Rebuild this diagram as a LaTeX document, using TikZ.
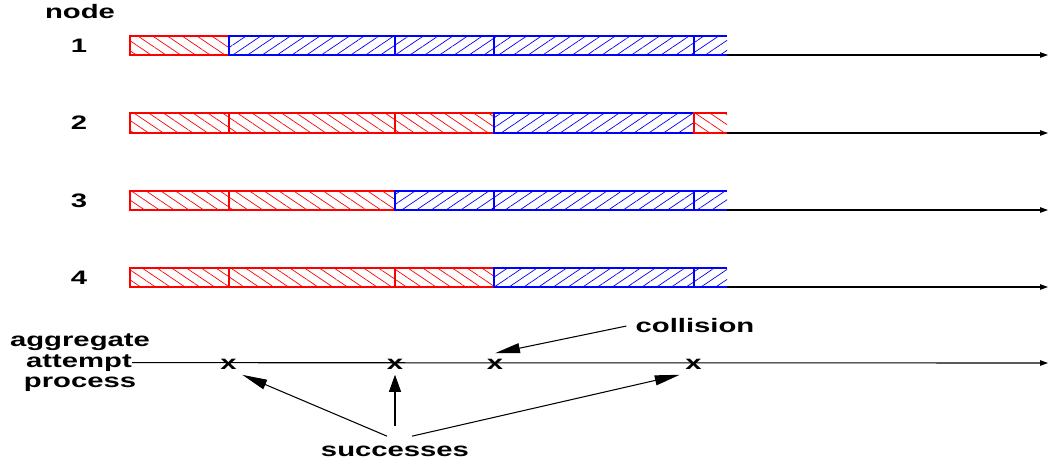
\documentclass[tikz,border=0pt]{standalone}
\usepackage{graphicx}
\usepackage{fontspec}
\setmainfont{Liberation Sans}
\usetikzlibrary{calc, patterns.meta, arrows.meta}

\newcommand{\stretchtxt}[1]{\scalebox{1.5}[1]{#1}}

\tikzset{
	lbl/.style={inner sep=0pt, font=\fontsize{11.1}{13}\selectfont\bfseries},
	hit/.style={lbl, inner sep=3pt},
	redbar/.style={draw=red, line width=0.8pt, pattern color=red,
		pattern={Lines[angle=-34, distance=4.7pt, line width=0.4pt]}},
	bluebar/.style={draw=blue, line width=0.8pt, pattern color=blue,
		pattern={Lines[angle=34, distance=4.7pt, line width=0.4pt]}},
	axis/.style={line width=0.6pt, -{Triangle[length=0.16cm, width=0.11cm]}},
	ann/.style={line width=0.6pt, -{Triangle[length=0.5cm, width=0.2cm]}},
	annup/.style={line width=0.6pt, -{Triangle[length=0.34cm, width=0.24cm]}}
}

\begin{document}
\begin{tikzpicture}[x=0.02cm, y=-0.02cm]
	\useasboundingbox (0,0) rectangle (1050,461);

	%node 1
	\draw[redbar]  (229,36) -| (130,55) -- (229,55);
	\draw[bluebar] (395,36) -| (229,55) -- (395,55);
	\draw[bluebar] (494,36) -| (395,55) -- (494,55);
	\draw[bluebar] (694,36) -| (494,55) -- (694,55);
	\draw[bluebar] (727,36) -| (694,55) -- (727,55);
	\draw[axis] (727,55) -- (1048,55);
	%node 2
	\draw[redbar]  (229,113) -| (130,133) -- (229,133);
	\draw[redbar]  (395,113) -| (229,133) -- (395,133);
	\draw[redbar]  (494,113) -| (395,133) -- (494,133);
	\draw[bluebar] (694,113) -| (494,133) -- (694,133);
	\draw[redbar]  (727,113) -| (694,133) -- (727,133);
	\draw[axis] (727,133) -- (1048,133);
	%node 3
	\draw[redbar]  (229,191) -| (130,210) -- (229,210);
	\draw[redbar]  (395,191) -| (229,210) -- (395,210);
	\draw[bluebar] (494,191) -| (395,210) -- (494,210);
	\draw[bluebar] (694,191) -| (494,210) -- (694,210);
	\draw[bluebar] (727,191) -| (694,210) -- (727,210);
	\draw[axis] (727,210) -- (1048,210);
	%node 4
	\draw[redbar]  (229,268) -| (130,287) -- (229,287);
	\draw[redbar]  (395,268) -| (229,287) -- (395,287);
	\draw[redbar]  (494,268) -| (395,287) -- (494,287);
	\draw[bluebar] (694,268) -| (494,287) -- (694,287);
	\draw[bluebar] (727,268) -| (694,287) -- (727,287);
	\draw[axis] (727,287) -- (1048,287);

	%row labels
	\node[lbl, anchor=base] (hdr) at (80,18)  {\stretchtxt{node}};
	\node[lbl, anchor=base] (n1)  at (79,52)  {\stretchtxt{1}};
	\node[lbl, anchor=base] (n2)  at (79,129.5) {\stretchtxt{2}};
	\node[lbl, anchor=base] (n3)  at (79,207) {\stretchtxt{3}};
	\node[lbl, anchor=base] (n4)  at (79,284) {\stretchtxt{4}};

	%aggregate process
	\node[lbl, anchor=base] (agg1) at (80,346)  {\stretchtxt{aggregate}};
	\node[lbl, anchor=base] (agg2) at (79,367)  {\stretchtxt{attempt}};
	\node[lbl, anchor=base] (agg3) at (80,387)  {\stretchtxt{process}};
	\coordinate (aggend) at (1048,363);
	\draw[axis] (agg2.east) -- (aggend);

	\node[hit] (x1) at (228.5,364) {\stretchtxt{x}};
	\node[hit] (x2) at (395,364)   {\stretchtxt{x}};
	\node[hit] (x3) at (495,364)   {\stretchtxt{x}};
	\node[hit] (x4) at (693.5,364) {\stretchtxt{x}};

	%outer labels
	\node[lbl, anchor=base] (coll) at (695,332) {\stretchtxt{collision}};
	\node[lbl, anchor=base] (succ) at (395,456) {\stretchtxt{successes}};

	%arrows
	\draw[ann] ($(coll.west)+(-9,1)$) -- (x3.north);
	\draw[ann] ($(succ.north)+(-8,-9)$) -- (x1.south east);
	\draw[annup] ($(succ.north)+(0,-19)$) -- (x2.south);
	\draw[ann] ($(succ.north)+(17,-9)$) -- (x4.south west);

	%\draw[help lines,step=50] (0,0) grid (1050,461);
\end{tikzpicture}
\end{document}
